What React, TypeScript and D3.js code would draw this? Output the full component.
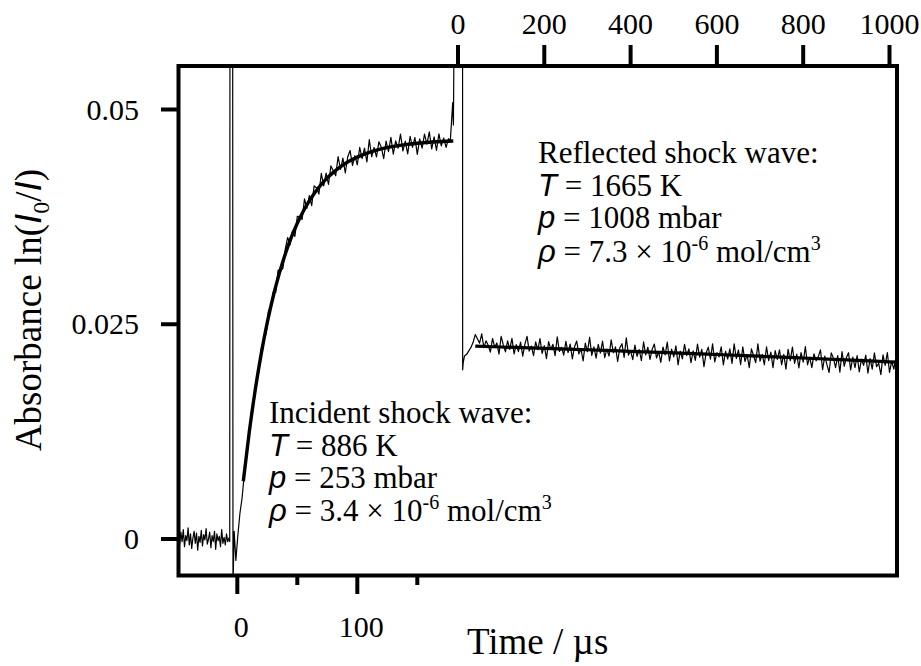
import React from "react";
import * as d3 from "d3";

// ---------- data (absorbance values in units of 1e-5 where noted) ----------
const yTickValues = [0, 0.025, 0.05];
const yTickLabels = ["0", "0.025", "0.05"];
const bottomMajorTicks = [0, 100];
const bottomMinorTicks = [50, 150];
const bottomTickLabels = ["0", "100"];
const topTicks = [0, 200, 400, 600, 800, 1000];
const topTickLabels = ["0", "200", "400", "600", "800", "1000"];

// incident shock: pre-shock baseline, t = -49 ... -7 µs (1 µs step), 1e-5 units
const incBaseStart = -49;
const incBaseStep = 1;
const incBaseline = [
  20, -60, 80, -30, 110, -90, 40, -20, 130, -70, 60, -110, 10, 90, -50, 70,
  -130, 30, -40, 100, -80, 50, -10, 120, -60, 0, 80, -100, 40, -30, 90, -120,
  60, -20, 30, -90, 110, -50, 20, -70, 60, -30, 10,
];
// schlieren spike and onset of the incident shock (µs, absorbance)
const incSpikeT = [-6.3, -6.1, -3.9, -3.6, -2.6, -1.2, 0.5, 2.2, 4.0];
const incSpikeA = [-0.0003, 0.07, 0.07, -0.0055, 0.0009, -0.0025, 0.0005, 0.003, 0.0048];
// incident raw trace, t = 6 ... 176 µs (2 µs step), 1e-5 units
const incRawStart = 6;
const incRawStep = 2;
const incRaw = [
  780, 1070, 1218, 1500, 1605, 1850, 1950, 2221, 2320, 2390, 2660, 2685, 2879,
  2870, 3130, 3120, 3150, 3378, 3510, 3425, 3585, 3522, 3755, 3753, 3720, 3960,
  3850, 3997, 3880, 4110, 4090, 4015, 4258, 4110, 4260, 4127, 4343, 4288, 4230,
  4453, 4303, 4433, 4261, 4447, 4523, 4348, 4462, 4356, 4558, 4429, 4550, 4391,
  4651, 4450, 4558, 4447, 4624, 4561, 4427, 4633, 4509, 4675, 4480, 4634, 4549,
  4713, 4517, 4631, 4484, 4687, 4560, 4674, 4477, 4659, 4551, 4714, 4596, 4739,
  4540, 4682, 4524, 4716, 4577, 4668, 4559, 4660,
];
// rise into the reflected-shock schlieren spike
const incEndT = [177.5, 178.7, 179.5, 180.1, 181.2];
const incEndA = [0.0463, 0.049, 0.0508, 0.0482, 0.07];
// incident fit curve (µs, absorbance)
const incFitT = [5, 10, 15, 20, 25, 30, 35, 40, 45, 50, 55, 60, 65, 70, 75, 80, 85, 90, 95, 100, 110, 120, 130, 140, 150, 160, 170, 180];
const incFitA = [
  0.00673, 0.01248, 0.0174, 0.02161, 0.02521, 0.02829, 0.03092, 0.03318,
  0.0351, 0.03675, 0.03816, 0.03937, 0.0404, 0.04128, 0.04204, 0.04268,
  0.04324, 0.04371, 0.04411, 0.04446, 0.04501, 0.04541, 0.0457, 0.04591,
  0.04607, 0.04619, 0.04627, 0.04633,
];

// reflected shock: start of the trace (µs on the upper axis, absorbance)
const refStartT = [10.5, 10.8, 12, 15, 20, 25, 30, 35, 40];
const refStartA = [0.07, 0.0197, 0.0205, 0.0213, 0.0215, 0.0219, 0.0223, 0.0229, 0.0238];
// reflected raw trace, t = 45 ... 1030 µs (5 µs step), 1e-5 units
const refRawStart = 45;
const refRawStep = 5;
const refRaw = [
  2331, 2280, 2389, 2228, 2307, 2256, 2175, 2334, 2233, 2282, 2151, 2360, 2259, 2178, 2307, 2206, 2335, 2154, 2263, 2182,
  2291, 2130, 2269, 2358, 2187, 2246, 2135, 2294, 2203, 2332, 2161, 2250, 2099, 2298, 2207, 2266, 2135, 2354, 2183, 2232,
  2141, 2300, 2169, 2268, 2097, 2236, 2305, 2154, 2213, 2072, 2281, 2180, 2349, 2138, 2237, 2106, 2265, 2164, 2303, 2112,
  2211, 2130, 2319, 2168, 2237, 2066, 2225, 2274, 2113, 2342, 2141, 2190, 2089, 2258, 2127, 2206, 2075, 2294, 2143, 2232,
  2091, 2210, 2269, 2108, 2177, 2056, 2235, 2144, 2293, 2072, 2211, 2120, 2249, 2028, 2187, 2096, 2265, 2134, 2213, 2052,
  2191, 2080, 2269, 2118, 2207, 2006, 2165, 2234, 2093, 2272, 2061, 2170, 2119, 2238, 2027, 2186, 2095, 2214, 2043, 2272,
  2101, 2200, 2029, 2238, 2067, 2146, 1995, 2214, 2133, 2052, 2271, 2070, 2149, 2028, 2237, 2076, 2175, 1994, 2193, 2092,
  2201, 2030, 2149, 1978, 2207, 2076, 2235, 2044, 2153, 1992, 2171, 2060, 2239, 2028, 2117, 1996, 2155, 2074, 2123, 2202,
  1971, 2130, 2029, 1938, 2167, 2106, 1995, 2134, 1943, 2182, 2011, 2110, 2169, 1968, 2117, 1996, 2135, 1944, 2093, 2022,
  2141, 1930, 2099, 1978, 2167, 2006, 2045, 1914, 2143, 2022, 2171, 1940, 2069, 1978, 2117, 1926, 2075, 2094,
];
// reflected fit curve
const refFitT = [40, 100, 200, 300, 400, 500, 600, 700, 800, 900, 1000, 1030];
const refFitA = [0.02245, 0.02235, 0.0222, 0.02203, 0.02185, 0.02167, 0.02148, 0.02128, 0.02107, 0.02085, 0.02062, 0.02055];

// ---------- layout ----------
const W = 921;
const H = 666;
const frame = { l: 178.5, r: 897, t: 66, b: 575.5 };
const serif = "'Liberation Serif', 'Times New Roman', Times, serif";
const sans = "'Liberation Sans', Arial, Helvetica, sans-serif";

type P = [number, number];

export default function App() {
  const xInc = d3.scaleLinear().domain([0, 100]).range([237.3, 357.3]);
  const xRef = d3.scaleLinear().domain([0, 1000]).range([458, 889.5]);
  const y = d3.scaleLinear().domain([0, 0.05]).range([539, 109.5]);

  const incPts: P[] = [];
  incBaseline.forEach((v, i) => incPts.push([incBaseStart + i * incBaseStep, v * 1e-5]));
  incSpikeT.forEach((t, i) => incPts.push([t, incSpikeA[i]]));
  incRaw.forEach((v, i) => incPts.push([incRawStart + i * incRawStep, v * 1e-5]));
  incEndT.forEach((t, i) => incPts.push([t, incEndA[i]]));

  const refPts: P[] = [];
  refStartT.forEach((t, i) => refPts.push([t, refStartA[i]]));
  refRaw.forEach((v, i) => refPts.push([refRawStart + i * refRawStep, v * 1e-5]));

  const incFit: P[] = incFitT.map((t, i) => [t, incFitA[i]]);
  const refFit: P[] = refFitT.map((t, i) => [t, refFitA[i]]);

  const lineInc = d3.line<P>().x((d) => xInc(d[0])).y((d) => y(d[1]));
  const lineRef = d3.line<P>().x((d) => xRef(d[0])).y((d) => y(d[1]));
  const fitInc = d3.line<P>().x((d) => xInc(d[0])).y((d) => y(d[1])).curve(d3.curveMonotoneX);
  const fitRef = d3.line<P>().x((d) => xRef(d[0])).y((d) => y(d[1])).curve(d3.curveMonotoneX);

  const fs = 31;
  const sup = 20;

  return (
    <svg
      width={W}
      height={H}
      style={{ position: "absolute", left: 0, top: 0, background: "#fff" }}
      fontFamily={serif}
    >
      <defs>
        <clipPath id="plotClip">
          <rect x={frame.l} y={frame.t} width={frame.r - frame.l} height={frame.b - frame.t} />
        </clipPath>
      </defs>

      <g clipPath="url(#plotClip)" fill="none" stroke="#000" strokeLinejoin="round">
        <path d={fitInc(incFit) || ""} strokeWidth={3.4} />
        <path d={fitRef(refFit) || ""} strokeWidth={3.2} />
        <path d={lineInc(incPts) || ""} strokeWidth={1.2} />
        <path d={lineRef(refPts) || ""} strokeWidth={1.2} />
      </g>

      {/* frame */}
      <rect
        x={frame.l}
        y={frame.t}
        width={frame.r - frame.l}
        height={frame.b - frame.t}
        fill="none"
        stroke="#000"
        strokeWidth={4}
      />

      {/* left axis */}
      {yTickValues.map((v, i) => (
        <g key={"y" + i}>
          <line x1={161} x2={frame.l} y1={y(v)} y2={y(v)} stroke="#000" strokeWidth={4} />
          <text x={139} y={y(v) + 10} textAnchor="end" fontSize={30}>
            {yTickLabels[i]}
          </text>
        </g>
      ))}

      {/* bottom axis */}
      {bottomMajorTicks.map((v, i) => (
        <g key={"bM" + i}>
          <line x1={xInc(v)} x2={xInc(v)} y1={frame.b} y2={594} stroke="#000" strokeWidth={4} />
          <text x={xInc(v) + 4} y={637} textAnchor="middle" fontSize={30}>
            {bottomTickLabels[i]}
          </text>
        </g>
      ))}
      {bottomMinorTicks.map((v, i) => (
        <line key={"bm" + i} x1={xInc(v)} x2={xInc(v)} y1={frame.b} y2={585} stroke="#000" strokeWidth={4} />
      ))}

      {/* top axis */}
      {topTicks.map((v, i) => (
        <g key={"t" + i}>
          <line x1={xRef(v)} x2={xRef(v)} y1={45} y2={frame.t} stroke="#000" strokeWidth={4} />
          <text x={xRef(v)} y={34} textAnchor="middle" fontSize={30}>
            {topTickLabels[i]}
          </text>
        </g>
      ))}

      {/* axis titles */}
      <text x={467} y={654} fontSize={37}>
        Time / µs
      </text>
      <text transform="translate(41,310) rotate(-90)" textAnchor="middle" fontSize={37}>
        Absorbance ln(
        <tspan fontFamily={sans} fontStyle="italic">I</tspan>
        <tspan fontSize={24} dy={8}>0</tspan>
        <tspan dy={-8}>/</tspan>
        <tspan fontFamily={sans} fontStyle="italic">I</tspan>)
      </text>

      {/* reflected shock annotation */}
      <g fontSize={fs}>
        <text x={538} y={163}>Reflected shock wave:</text>
        <text x={538} y={196}>
          <tspan fontFamily={sans} fontStyle="italic">T</tspan> = 1665 K
        </text>
        <text x={538} y={228}>
          <tspan fontFamily={sans} fontStyle="italic">p</tspan> = 1008 mbar
        </text>
        <text x={538} y={262}>
          <tspan fontFamily={sans} fontStyle="italic">ρ</tspan> = 7.3 × 10
          <tspan fontSize={sup} dy={-12}>-6</tspan>
          <tspan dy={12}> mol/cm</tspan>
          <tspan fontSize={sup} dy={-12}>3</tspan>
        </text>
      </g>

      {/* incident shock annotation */}
      <g fontSize={fs}>
        <text x={269} y={423}>Incident shock wave:</text>
        <text x={269} y={456}>
          <tspan fontFamily={sans} fontStyle="italic">T</tspan> = 886 K
        </text>
        <text x={269} y={488}>
          <tspan fontFamily={sans} fontStyle="italic">p</tspan> = 253 mbar
        </text>
        <text x={269} y={521}>
          <tspan fontFamily={sans} fontStyle="italic">ρ</tspan> = 3.4 × 10
          <tspan fontSize={sup} dy={-12}>-6</tspan>
          <tspan dy={12}> mol/cm</tspan>
          <tspan fontSize={sup} dy={-12}>3</tspan>
        </text>
      </g>
    </svg>
  );
}
